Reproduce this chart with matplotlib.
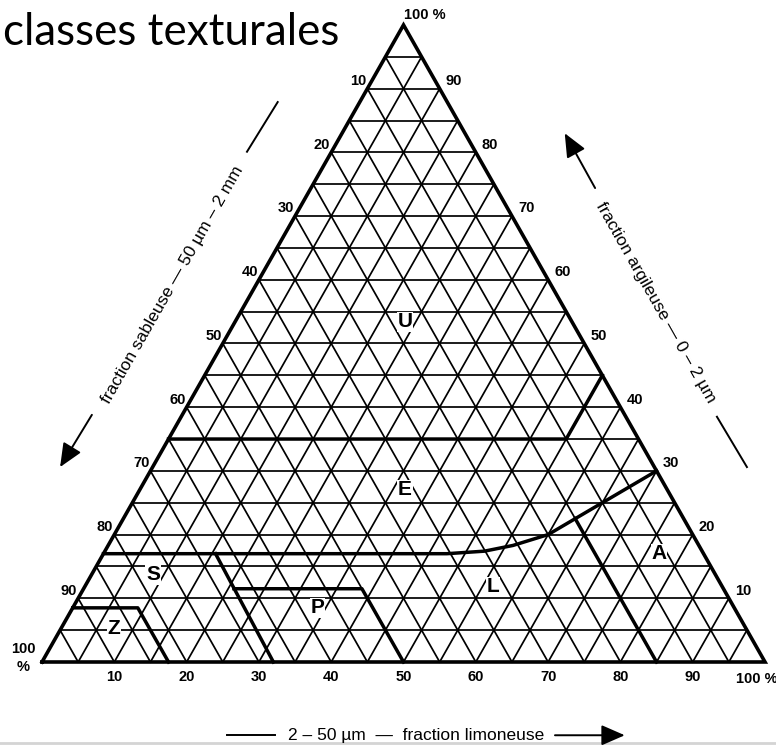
import numpy as np
import matplotlib.pyplot as plt

# tick labels on the three sides (%)
ticks = [10, 20, 30, 40, 50, 60, 70, 80, 90]
grid_steps = np.arange(5, 100, 5)

# class boundaries, points given as (silt %, clay %)
bound_U_E = [(0, 35), (55, 35), (55, 45)]
bound_E_L = [(0, 17), (47.5, 17), (52.5, 17.4), (56, 18.3), (60, 20), (65, 25), (70, 30)]
bound_L_A = [(85, 0), (62.5, 22.5)]
bound_S_L = [(32, 0), (15.5, 17)]
bound_P_top = [(20.8, 11.5), (38.5, 11.5), (50, 0)]
bound_Z = [(0, 8.5), (9, 8.5), (17.5, 0)]

# class names and label positions (silt %, clay %)
classes = ['U', 'E', 'S', 'Z', 'P', 'L', 'A']
class_silt = [23.5, 36.7, 8.5, 7.3, 33.8, 56.5, 76.8]
class_clay = [53.4, 27.0, 13.7, 5.3, 8.5, 11.8, 17.0]


def tern(silt, clay):
    silt = np.asarray(silt, float)
    clay = np.asarray(clay, float)
    return silt + clay / 2, clay


fig = plt.figure(figsize=(7.76, 7.45), dpi=100)
ax = fig.add_axes([0, 0, 1, 1])
ax.set_xlim(-5.81, 101.52)
ax.set_ylim(-13.03, 103.92)
ax.axis('off')

# grid every 5 %
for g in grid_steps:
    # constant clay
    x, y = tern([0, 100 - g], [g, g])
    ax.plot(x, y, color='k', lw=1.25, zorder=1)
    # constant silt
    x, y = tern([g, g], [0, 100 - g])
    ax.plot(x, y, color='k', lw=1.25, zorder=1)
    # constant sand
    x, y = tern([100 - g, 0], [0, 100 - g])
    ax.plot(x, y, color='k', lw=1.25, zorder=1)

# triangle border
x, y = tern([0, 100, 0, 0], [0, 0, 100, 0])
ax.plot(x, y, color='k', lw=2.6, zorder=3, solid_joinstyle='miter')

# class boundaries
for b in [bound_U_E, bound_E_L, bound_L_A, bound_S_L, bound_P_top, bound_Z]:
    s, c = zip(*b)
    x, y = tern(s, c)
    ax.plot(x, y, color='k', lw=2.5, zorder=2)

# class labels
for name, s, c in zip(classes, class_silt, class_clay):
    x, y = tern(s, c)
    ax.text(x, y, name, fontsize=15, fontweight='bold', ha='center', va='center',
            family='Liberation Sans', zorder=4,
            bbox=dict(facecolor='white', edgecolor='none', pad=0.5))

tick_kw = dict(fontsize=10.5, fontweight='bold', family='Liberation Sans',
               textcoords='offset points')
for t in ticks:
    # bottom: silt
    ax.annotate(str(t), tern(t, 0), xytext=(0, -11), ha='center', va='center', **tick_kw)
    # right: clay
    ax.annotate(str(t), tern(100 - t, t), xytext=(4.3, 5.5), ha='left', va='center', **tick_kw)
    # left: sand
    ax.annotate(str(t), tern(0, 100 - t), xytext=(-0.8, 5.5), ha='right', va='center', **tick_kw)

ax.annotate('100 %', tern(0, 100), xytext=(0.7, 7.2), ha='left', va='center', **tick_kw)
ax.annotate('100\n%', tern(0, 0), xytext=(-13.7, 2.9), ha='center', va='center',
            linespacing=1.35, **tick_kw)
ax.annotate('100 %', tern(100, 0), xytext=(-21, -12.2), ha='left', va='center', **tick_kw)

lab_kw = dict(fontsize=12.5, family='Liberation Sans', ha='center', va='center')
arr_kw = dict(arrowstyle='-|>,head_length=0.8,head_width=0.35', mutation_scale=18,
              lw=1.4, color='k', shrinkA=0, shrinkB=0)

# left side: sand
ax.text(18.0, 59.2, 'fraction sableuse — 50 µm – 2 mm', rotation=60.3, **lab_kw)
ax.annotate('', xy=(15.3 - 12.8, 30.6), xytext=(19.4 - 12.5, 38.8), arrowprops=arr_kw)
ax.plot([40.05 - 11.7, 43.95 - 11.35], [80.1, 87.9], color='k', lw=1.4)

# right side: clay
ax.text(84.9, 56.4, 'fraction argileuse — 0 – 2 µm', rotation=-60.5, **lab_kw)
ax.annotate('', xy=(58.5 + 13.8, 83.0), xytext=(62.8 + 13.7, 74.4), arrowprops=arr_kw)
ax.plot([80.75 + 12.6, 84.7 + 12.8], [38.5, 30.6], color='k', lw=1.4)

# bottom: silt
ax.text(51.7, -11.5, '2 – 50 µm  —  fraction limoneuse', **lab_kw)
ax.plot([25.6, 32.2], [-11.5, -11.5], color='k', lw=1.4)
ax.annotate('', xy=(80.6, -11.5), xytext=(70.95, -11.5), arrowprops=arr_kw)

# faint screenshot edge at the bottom
ax.axhline(-12.75, color='#d4d4d4', lw=2)

# title
title = fig.text(3 / 776, 1 - 45 / 745, 'classes texturales', fontsize=30,
                 family='Lato', va='baseline', ha='left')
fig.canvas.draw()
w = title.get_window_extent().width
title.set_fontsize(30 * 336 / w)

fig.savefig('out.png', dpi=100)
